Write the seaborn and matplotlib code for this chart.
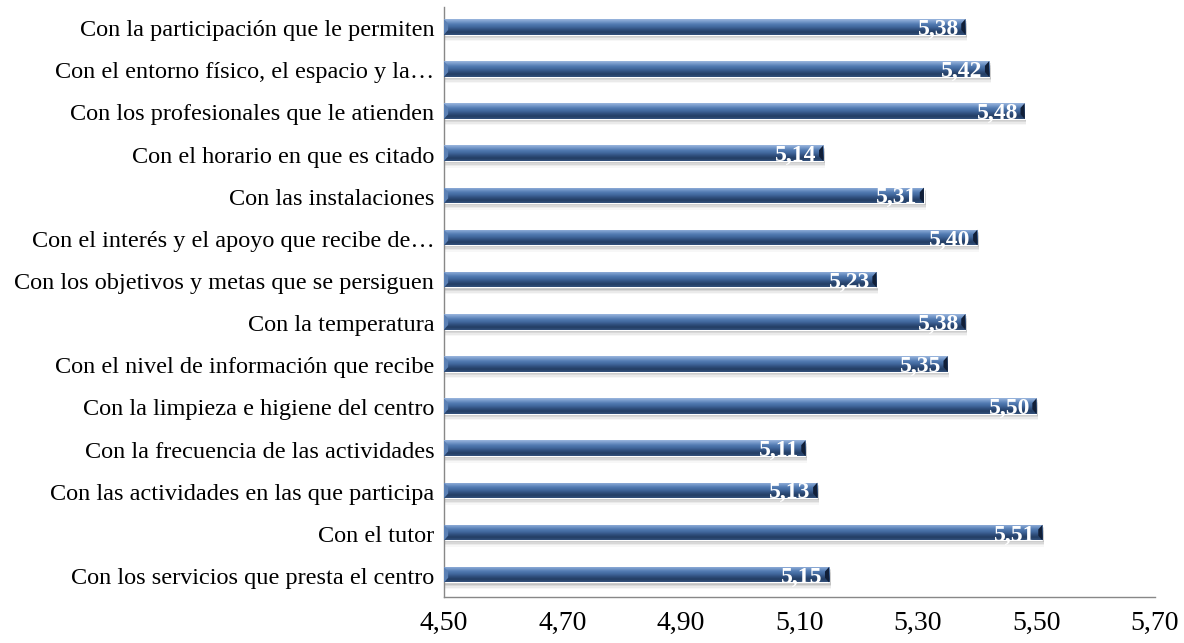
import numpy as np
import pandas as pd
import matplotlib
matplotlib.use("Agg")
import matplotlib.pyplot as plt
from matplotlib.colors import LinearSegmentedColormap
from matplotlib.patches import Rectangle, Polygon
import seaborn as sns

categories = [
    "Con la participación que le permiten",
    "Con el entorno físico, el espacio y la…",
    "Con los profesionales que le atienden",
    "Con el horario en que es citado",
    "Con las instalaciones",
    "Con el interés y el apoyo que recibe de…",
    "Con los objetivos y metas que se persiguen",
    "Con la temperatura",
    "Con el nivel de información que recibe",
    "Con la limpieza e higiene del centro",
    "Con la frecuencia de las actividades",
    "Con las actividades en las que participa",
    "Con el tutor",
    "Con los servicios que presta el centro",
]
values = [5.38, 5.42, 5.48, 5.14, 5.31, 5.40, 5.23, 5.38, 5.35, 5.50, 5.11, 5.13, 5.51, 5.15]
x_ticks = [4.50, 4.70, 4.90, 5.10, 5.30, 5.50, 5.70]

x0 = 4.50
df = pd.DataFrame({"item": categories, "score": values})
df["span"] = df["score"] - x0

sns.set_theme(style="white")
plt.rcParams["font.family"] = ["Liberation Serif", "DejaVu Serif"]

fig = plt.figure(figsize=(11.84, 6.43), dpi=100)
ax = fig.add_axes([0.375, 0.0715, 0.6005, 0.9176])

bar_h = 0.37
sns.barplot(data=df, x="span", y="item", orient="h", ax=ax,
            color="#3b5f92", width=bar_h, saturation=1)

# bars start at the axis origin rather than zero
for p in ax.patches:
    p.set_x(x0)

grad = LinearSegmentedColormap.from_list(
    "bevel", ["#9bb6de", "#7397c8", "#5079b0", "#41679c",
              "#2f4e7c", "#233d63", "#34527d"])
g = np.linspace(0, 1, 64).reshape(-1, 1)

for p, v in zip(list(ax.patches), values):
    y = p.get_y() - 0.03
    p.set_y(y)
    h = p.get_height()
    # soft drop shadow below each bar
    for k, a in enumerate([0.10, 0.07, 0.05, 0.03]):
        sh = Rectangle((x0 + 0.001, y + 0.05 + 0.035 * k), v - x0 + 0.002, h,
                       facecolor="#000000", alpha=a, edgecolor="none", zorder=1)
        ax.add_patch(sh)
    im = ax.imshow(g, cmap=grad, aspect="auto", extent=(x0, v, y + h, y),
                   zorder=3, interpolation="bilinear")
    im.set_clip_path(p)
    p.set_zorder(2)
    # bevelled ends
    cap = 0.007
    ax.add_patch(Polygon([(v - cap, y + 0.3 * h), (v, y), (v, y + h),
                          (v - cap, y + 0.7 * h)],
                         closed=True, facecolor="#111f38", edgecolor="none",
                         zorder=4))
    ax.add_patch(Polygon([(x0, y), (x0 + cap, y + 0.3 * h),
                          (x0 + cap, y + 0.7 * h), (x0, y + h)],
                         closed=True, facecolor="#5b80b4", edgecolor="none",
                         zorder=4))
    ax.text(v - 0.011, y + h / 2 + 0.06, f"{v:.2f}".replace(".", ","),
            ha="right", va="center", color="white", fontweight="bold",
            fontsize=17, zorder=5)

ax.set_xlim(4.50, 5.70)
ax.set_ylim(len(values) - 0.5, -0.5)
ax.set_xticks(x_ticks)
ax.set_xticklabels([f"{t:.2f}".replace(".", ",") for t in x_ticks], fontsize=20)
ax.set_yticks(np.arange(len(categories)))
ax.set_yticklabels(categories, fontsize=17.5)
ax.set_xlabel("")
ax.set_ylabel("")

# category separators as tick marks on the value axis
ax.set_yticks(np.arange(len(categories) + 1) - 0.5, minor=True)
ax.tick_params(axis="y", which="major", length=0, pad=7, colors="black")
ax.tick_params(axis="y", which="minor", length=6, width=1, color="#888888",
               direction="out")
ax.tick_params(axis="x", which="major", length=6, width=1, color="#888888",
               direction="out", pad=4, labelcolor="black")

for side in ["top", "right"]:
    ax.spines[side].set_visible(False)
for side in ["left", "bottom"]:
    ax.spines[side].set_color("#888888")
    ax.spines[side].set_linewidth(1)
ax.grid(False)
ax.set_facecolor("white")

fig.savefig("out.png", dpi=100, facecolor="white")
